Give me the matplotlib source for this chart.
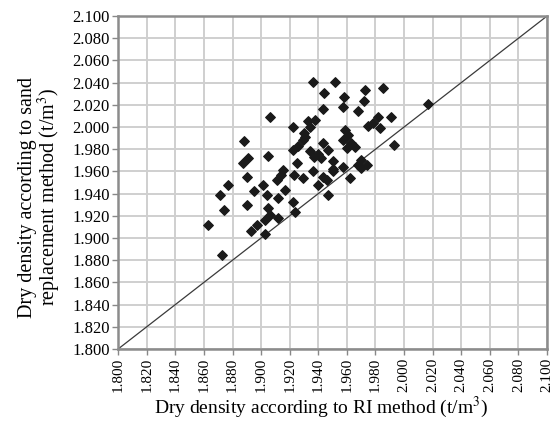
import matplotlib.pyplot as plt
import numpy as np

# Dry density pairs (t/m3)
ri_density = [
    1.936, 1.952, 1.944, 1.973, 1.985, 1.958, 1.972, 1.943, 1.957, 1.968,
    2.017, 1.991, 1.982, 1.978, 1.975, 1.906, 1.922, 1.933, 1.938, 1.930,
    1.929, 1.888, 1.922, 1.905, 1.891, 1.887, 1.925, 1.934, 1.959, 1.961,
    1.957, 1.963, 1.960, 1.966, 1.993, 1.943, 1.947, 1.970, 1.974, 1.968,
    1.950, 1.957, 1.942, 1.890, 1.877, 1.871, 1.874, 1.863, 1.873, 1.890,
    1.895, 1.901, 1.904, 1.911, 1.915, 1.912, 1.917, 1.905, 1.906, 1.903,
    1.912, 1.897, 1.893, 1.903, 1.922, 1.924, 1.923, 1.929, 1.936, 1.940,
    1.947, 1.946, 1.943, 1.950, 1.962, 1.970, 1.937, 1.940, 1.914, 1.934,
    1.931, 1.983, 1.926, 1.950,
]
sr_density = [
    2.041, 2.041, 2.031, 2.033, 2.035, 2.027, 2.023, 2.016, 2.018, 2.014,
    2.021, 2.009, 2.009, 2.004, 2.001, 2.009, 2.000, 2.005, 2.006, 1.995,
    1.988, 1.987, 1.979, 1.974, 1.972, 1.968, 1.968, 1.978, 1.997, 1.993,
    1.988, 1.986, 1.981, 1.982, 1.984, 1.986, 1.979, 1.970, 1.966, 1.966,
    1.969, 1.964, 1.972, 1.955, 1.948, 1.939, 1.925, 1.912, 1.885, 1.930,
    1.942, 1.948, 1.939, 1.952, 1.961, 1.936, 1.943, 1.927, 1.921, 1.916,
    1.918, 1.912, 1.906, 1.904, 1.932, 1.923, 1.957, 1.954, 1.960, 1.948,
    1.939, 1.952, 1.955, 1.960, 1.954, 1.963, 1.973, 1.976, 1.957, 2.000,
    1.991, 1.999, 1.983, 1.962,
]
equality_line = [1.8, 2.1]
ticks = np.round(np.arange(1.80, 2.1001, 0.02), 2)
tick_labels = [f"{t:.3f}" for t in ticks]

plt.rcParams["font.family"] = ["Liberation Serif", "DejaVu Serif"]
plt.rcParams["mathtext.fontset"] = "stix"

fig = plt.figure(figsize=(5.52, 4.22), dpi=100)
ax = fig.add_axes([0.214, 0.173, 0.777, 0.789])

ax.grid(True, color="#cfcfcf", linewidth=1.4)
ax.set_axisbelow(True)

ax.plot(equality_line, equality_line, color="#3a3a3a", linewidth=0.9, zorder=2)
ax.scatter(ri_density, sr_density, marker="D", s=24, color="#1a1a1a",
           edgecolors="#1a1a1a", linewidths=0.9, zorder=3)

ax.set_xlim(1.8, 2.1)
ax.set_ylim(1.8, 2.1)
ax.set_xticks(ticks)
ax.set_yticks(ticks)
ax.set_xticklabels(tick_labels, rotation=90, fontsize=11)
ax.set_yticklabels(tick_labels, fontsize=12)
ax.tick_params(direction="out", length=4, width=1, color="#888888", pad=2)

for spine in ax.spines.values():
    spine.set_color("#8c8c8c")
    spine.set_linewidth(1.8)

ax.set_xlabel("Dry density according to RI method (t/m$^3$)", fontsize=14)
ax.set_ylabel("Dry density according to sand\nreplacement method (t/m$^3$)",
              fontsize=14.5, linespacing=0.95)
ax.xaxis.set_label_coords(0.473, -0.138)
ax.yaxis.set_label_coords(-0.128, 0.456)

fig.savefig("out.png", dpi=100)
